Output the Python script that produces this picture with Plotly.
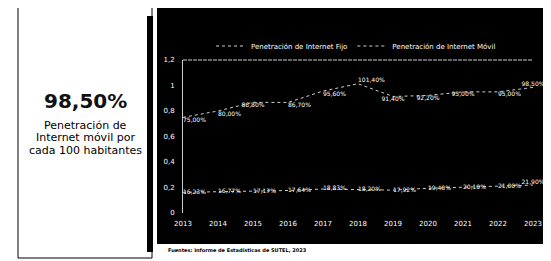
import plotly.graph_objects as go

years = [2013, 2014, 2015, 2016, 2017, 2018, 2019, 2020, 2021, 2022, 2023]
fijo = [16.23, 16.77, 17.17, 17.64, 18.83, 18.20, 17.92, 19.40, 20.10, 21.00, 21.90]
movil = [75.00, 80.00, 86.80, 86.70, 95.60, 101.40, 91.40, 92.20, 95.00, 95.00, 98.50]
y_ticks = [0, 0.2, 0.4, 0.6, 0.8, 1, 1.2]
y_tick_text = ["0", "0,2", "0,4", "0,6", "0,8", "1", "1,2"]
kpi_value = "98,50%"
kpi_lines = ["Penetración de", "Internet móvil por", "cada 100 habitantes"]
source = "Fuentes: Informe de Estadísticas de SUTEL, 2023"

# page body has an 8px margin; size the figure to fit the window without scrollbars
OFF = 8
W, H = 551 - OFF, 261 - OFF
def px(x):
    return (x - OFF) / W
def py(y):
    return 1 - (y - OFF) / H

def fmt(v):
    return f"{v:.2f}".replace(".", ",") + "%"

fijo_pos = ["middle right"] * 10 + ["top center"]
movil_pos = ["bottom right", "bottom right", "bottom center", "bottom right", "bottom right",
             "top right", "bottom center", "bottom center", "bottom center", "bottom right", "top center"]

lab_font = dict(color="white", size=6, family="DejaVu Sans")

fig = go.Figure()
fig.add_trace(go.Scatter(
    x=years, y=[v / 100 for v in fijo], name="Penetración de Internet Fijo",
    mode="lines+text", line=dict(color="#cfcfcf", width=1, dash="dot"),
    text=[fmt(v) for v in fijo], textposition=fijo_pos, textfont=lab_font, cliponaxis=False,
))
fig.add_trace(go.Scatter(
    x=years, y=[v / 100 for v in movil], name="Penetración de Internet Móvil",
    mode="lines+text", line=dict(color="#cfcfcf", width=1, dash="dot"),
    text=[fmt(v) for v in movil], textposition=movil_pos, textfont=lab_font, cliponaxis=False,
))

shapes = [
    dict(type="rect", xref="paper", yref="paper", x0=px(157), x1=1.0, y0=py(244), y1=1.0,
         fillcolor="black", line=dict(width=0), layer="below"),
    dict(type="rect", xref="paper", yref="paper", x0=px(18), x1=px(152), y0=py(258), y1=py(6),
         fillcolor="white", line=dict(color="black", width=1), layer="below"),
    dict(type="rect", xref="paper", yref="paper", x0=px(147), x1=px(153), y0=py(252), y1=py(16),
         fillcolor="black", line=dict(width=0), layer="above"),
    dict(type="line", xref="paper", yref="paper", x0=px(183), x1=px(533), y0=py(60), y1=py(60),
         line=dict(color="#cccccc", width=1, dash="4px,1px")),
]

annotations = [
    dict(text="<b>" + kpi_value + "</b>", x=px(85), y=py(101), xref="paper", yref="paper",
         showarrow=False, font=dict(size=20, color="#111111", family="DejaVu Sans"),
         xanchor="center", yanchor="middle"),
]
for i, line in enumerate(kpi_lines):
    annotations.append(dict(text=line, x=px(85), y=py(125 + 12.5 * i), xref="paper", yref="paper",
                            showarrow=False, font=dict(size=11, color="black", family="DejaVu Sans"),
                            xanchor="center", yanchor="middle"))
annotations.append(dict(text="<b>" + source + "</b>", x=px(166), y=py(250),
                        xref="paper", yref="paper", showarrow=False,
                        font=dict(size=5, color="black", family="DejaVu Sans"),
                        xanchor="left", yanchor="middle"))

fig.update_layout(
    width=W, height=H, margin=dict(l=0, r=0, t=0, b=0, autoexpand=False),
    paper_bgcolor="white", plot_bgcolor="black",
    shapes=shapes, annotations=annotations,
    showlegend=True,
    legend=dict(orientation="h", x=px(356), y=py(46), xanchor="center", yanchor="middle",
                bgcolor="rgba(0,0,0,0)", font=dict(size=7, color="white", family="DejaVu Sans"),
                itemwidth=30, tracegroupgap=0),
    xaxis=dict(domain=[px(183), px(533)], range=[2013, 2023], tickvals=years,
               ticktext=[str(y) for y in years], showgrid=False, zeroline=False,
               showline=False, tickfont=dict(size=7, color="white", family="DejaVu Sans"),
               ticks="", ticklabelstandoff=5),
    yaxis=dict(domain=[py(213), py(60)], range=[0, 1.2], tickvals=y_ticks, ticktext=y_tick_text,
               showgrid=False, zeroline=False, showline=True, linecolor="#cccccc", linewidth=1,
               tickfont=dict(size=7, color="white", family="DejaVu Sans"),
               ticks="", ticklabelstandoff=6),
)

fig.write_html("out.html")
